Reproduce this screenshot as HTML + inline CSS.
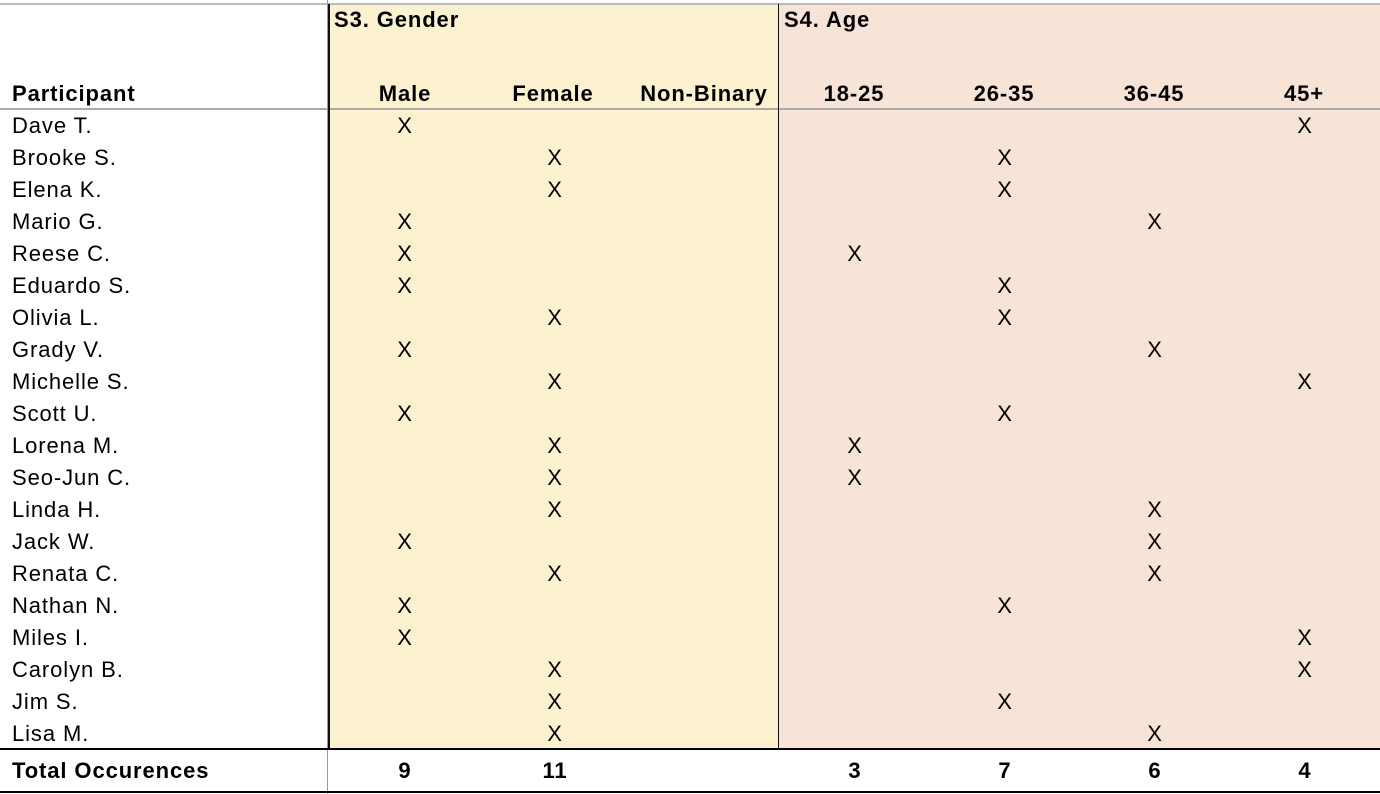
<!DOCTYPE html>
<html><head><style>
body{margin:0;width:1380px;height:794px;background:#fff;position:relative;overflow:hidden;font-family:"Liberation Sans",sans-serif;font-size:22px;letter-spacing:0.9px;color:#000}
div{position:absolute}
.t{height:32px;line-height:32px;white-space:nowrap}
.c{text-align:center;width:150px}
.b{font-weight:bold}
</style></head><body>
<div style="left:329px;top:4px;width:449px;height:745px;background:#fdf2d0"></div>
<div style="left:779px;top:4px;width:601px;height:745px;background:#f8e3d7"></div>
<div style="left:0;top:3px;width:1380px;height:2px;background:#bbb"></div>
<div style="left:0;top:108px;width:1380px;height:2px;background:#aaa"></div>
<div style="left:327px;top:0;width:1px;height:794px;background:#999"></div>
<div style="left:328px;top:4px;width:2px;height:745px;background:#111"></div>
<div style="left:778px;top:4px;width:1px;height:745px;background:#111"></div>
<div style="left:0;top:748px;width:1380px;height:2px;background:#000"></div>
<div style="left:0;top:791px;width:1380px;height:2px;background:#000"></div>
<div class="t b" style="left:334px;top:4px">S3. Gender</div>
<div class="t b" style="left:784px;top:4px">S4. Age</div>
<div class="t b" style="left:12px;top:78px">Participant</div>
<div class="t b c" style="left:330px;top:78px">Male</div>
<div class="t b c" style="left:478px;top:78px">Female</div>
<div class="t b c" style="left:629px;top:78px">Non-Binary</div>
<div class="t b c" style="left:779px;top:78px">18-25</div>
<div class="t b c" style="left:929px;top:78px">26-35</div>
<div class="t b c" style="left:1079px;top:78px">36-45</div>
<div class="t b c" style="left:1229px;top:78px">45+</div>
<script>
var d=[["Dave T.",0,3],["Brooke S.",1,1],["Elena K.",1,1],["Mario G.",0,2],["Reese C.",0,0],["Eduardo S.",0,1],["Olivia L.",1,1],["Grady V.",0,2],["Michelle S.",1,3],["Scott U.",0,1],["Lorena M.",1,0],["Seo-Jun C.",1,0],["Linda H.",1,2],["Jack W.",0,2],["Renata C.",1,2],["Nathan N.",0,1],["Miles I.",0,3],["Carolyn B.",1,3],["Jim S.",1,1],["Lisa M.",1,2]];
var g=[405,555],a=[855,1005,1155,1305],h="";
d.forEach(function(r,i){var y=110+i*32;
h+='<div class="t" style="left:12px;top:'+y+'px">'+r[0]+'</div>';
h+='<div class="t c" style="left:'+(g[r[1]]-75)+'px;top:'+y+'px">X</div>';
h+='<div class="t c" style="left:'+(a[r[2]]-75)+'px;top:'+y+'px">X</div>';});
document.body.insertAdjacentHTML('beforeend',h);
</script>
<div class="t b" style="left:12px;top:755px">Total Occurences</div>
<div class="t b c" style="left:330px;top:755px">9</div>
<div class="t b c" style="left:480px;top:755px">11</div>
<div class="t b c" style="left:780px;top:755px">3</div>
<div class="t b c" style="left:930px;top:755px">7</div>
<div class="t b c" style="left:1080px;top:755px">6</div>
<div class="t b c" style="left:1230px;top:755px">4</div>
</body></html>
